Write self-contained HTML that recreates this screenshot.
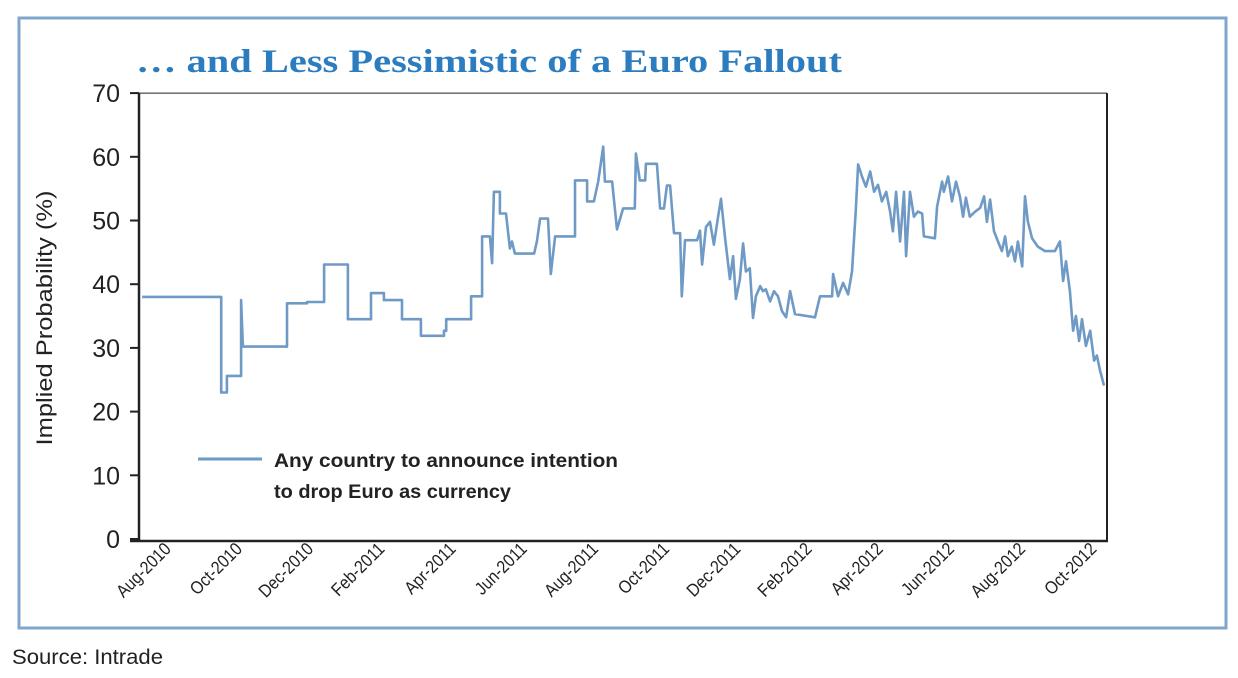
<!DOCTYPE html>
<html><head><meta charset="utf-8">
<style>
html,body{margin:0;padding:0;background:#fff;}
svg{display:block;}
</style></head>
<body>
<svg id="chart" width="1238" height="678" xmlns="http://www.w3.org/2000/svg">
  <rect x="19" y="18" width="1207" height="610" fill="none" stroke="#7fa6cc" stroke-width="3"/>
  <text x="136" y="72" textLength="706" lengthAdjust="spacingAndGlyphs" font-family="'Liberation Serif',serif" font-weight="bold" font-size="33" fill="#2b7dbf">… and Less Pessimistic of a Euro Fallout</text>
  <text transform="translate(52,318) rotate(-90)" text-anchor="middle" textLength="255" lengthAdjust="spacingAndGlyphs" font-family="'Liberation Sans',sans-serif" font-size="22" fill="#222">Implied Probability (%)</text>
  <g id="yaxis"></g>
  <g id="xaxis"></g>
  <g id="series"></g>
  <g>
    <line x1="198" y1="459" x2="262" y2="459" stroke="#6f9ac6" stroke-width="3"/>
    <text x="274" y="467" textLength="344" lengthAdjust="spacingAndGlyphs" font-family="'Liberation Sans',sans-serif" font-weight="bold" font-size="19" fill="#222">Any country to announce intention</text>
    <text x="274" y="498" textLength="237" lengthAdjust="spacingAndGlyphs" font-family="'Liberation Sans',sans-serif" font-weight="bold" font-size="19" fill="#222">to drop Euro as currency</text>
  </g>
  <text x="12" y="664" textLength="151" lengthAdjust="spacingAndGlyphs" font-family="'Liberation Sans',sans-serif" font-size="21" fill="#222">Source: Intrade</text>
</svg>
<script>
const yTicks = [0,10,20,30,40,50,60,70];
const xLabels = ["Aug-2010","Oct-2010","Dec-2010","Feb-2011","Apr-2011","Jun-2011","Aug-2011","Oct-2011","Dec-2011","Feb-2012","Apr-2012","Jun-2012","Aug-2012","Oct-2012"];
// months since Aug-2010
const months = [0.06,2.28,2.28,2.44,2.44,2.84,2.84,2.89,4.13,4.13,4.69,4.69,5.17,5.17,5.84,5.84,6.49,6.49,6.85,6.85,7.36,7.36,7.89,7.89,8.54,8.54,8.60,8.60,9.30,9.30,9.61,9.61,9.83,9.89,9.94,10.11,10.11,10.28,10.39,10.45,10.53,11.07,11.15,11.24,11.46,11.54,11.66,12.22,12.22,12.56,12.56,12.75,12.87,13.01,13.06,13.26,13.40,13.57,13.90,13.93,14.04,14.19,14.21,14.52,14.61,14.72,14.80,14.89,15.00,15.17,15.22,15.31,15.65,
15.73,15.79,15.90,16.01,16.12,16.24,16.32,16.43,16.57,16.66,16.74,16.85,16.94,17.02,17.13,17.22,17.30,17.42,17.50,17.58,17.70,17.81,17.92,18.03,18.15,18.26,18.40,18.96,19.10,19.44,19.47,19.61,19.75,19.89,20.00,20.11,20.17,20.28,20.39,20.51,20.62,20.73,20.84,20.96,21.07,21.15,21.24,21.35,21.46,21.52,21.63,21.74,21.85,21.97,22.02,22.33,22.39,22.53,22.58,22.70,22.81,22.92,23.03,23.12,23.20,23.31,23.46,23.60,23.71,23.79,23.88,23.99,24.10,24.21,24.30,24.38,24.49,24.58,24.66,24.78,24.86,24.94,25.06,25.22,25.42,25.70,25.84,25.93,26.01,26.12,26.21,26.29,26.38,26.46,26.57,26.69,26.80,26.88,26.97,27.08];
const probability = [38,38,23,23,25.6,25.6,37.5,30.2,30.2,37,37,37.2,37.2,43.1,43.1,34.5,34.5,38.6,38.6,37.5,37.5,34.5,34.5,31.9,31.9,32.7,32.7,34.5,34.5,38.1,38.1,47.5,47.5,43.3,54.5,54.5,51.1,51.1,45.6,46.7,44.8,44.8,46.7,50.3,50.3,41.6,47.5,47.5,56.3,56.3,53,53,56.1,61.6,56.1,56.1,48.6,51.9,51.9,60.5,56.3,56.3,58.9,58.9,51.9,51.9,55.5,55.5,48,48,38.1,46.9,46.9,
48.4,43.1,49,49.8,46.2,50.6,53.4,47.5,40.8,44.4,37.7,40.8,46.4,42,42.5,34.7,38.1,39.7,38.9,39.2,37.3,38.9,38.1,35.8,34.8,38.9,35.3,34.8,38.1,38.1,41.6,38.1,40.2,38.4,42,51.9,58.8,56.9,55.3,57.7,54.5,55.6,53,54.5,51.4,48.3,54.5,46.7,54.5,44.4,54.5,50.6,51.4,51.1,47.5,47.2,52.2,56.1,54.5,56.9,53,56.1,53.8,50.6,53.6,50.6,51.4,52,53.8,49.8,53.3,48.3,46.7,45.2,47.5,44.4,45.9,43.6,46.7,42.8,53.8,49.8,47.2,45.9,45.2,45.2,46.7,40.5,43.6,38.9,32.7,35,31.1,34.5,30.3,32.7,28,28.8,26.4,24.1];

const NS = "http://www.w3.org/2000/svg";
const X0 = 140, PXM = 35.6, Y0 = 539, PXV = 6.37;
function xs(m){ return X0 + m*PXM; }
function ys(v){ return Y0 - v*PXV; }
function mk(tag, attrs, parent){
  const e = document.createElementNS(NS, tag);
  for (const k in attrs) e.setAttribute(k, attrs[k]);
  parent.appendChild(e); return e;
}
const yg = document.getElementById('yaxis');
const axL = mk('line',{x1:139,y1:ys(70),x2:139,y2:541.5,stroke:'#222','stroke-width':2.5},yg);


yTicks.forEach(v=>{
  const t = mk('line',{x1:130,y1:ys(v),x2:139,y2:ys(v),stroke:'#222','stroke-width':2},yg);
  
  
  const l = mk('text',{x:120,y:ys(v)+9,'text-anchor':'end','font-family':"'Liberation Sans',sans-serif",'font-size':25,fill:'#222'},yg);
  l.textContent = v;
  
  
});
const xg = document.getElementById('xaxis');
const axB = mk('line',{x1:130,y1:541,x2:1108,y2:541,stroke:'#222','stroke-width':2.5},xg);


const axR = mk('line',{x1:1107,y1:ys(70),x2:1107,y2:541,stroke:'#222','stroke-width':2},xg);


const axT = mk('line',{x1:139,y1:ys(70),x2:1107,y2:ys(70),stroke:'#222','stroke-width':1},xg);


xLabels.forEach((s,i)=>{
  const ax = xs(i*2)+32, ay = 550;
  const l = mk('text',{x:0,y:0,'text-anchor':'end','font-family':"'Liberation Sans',sans-serif",'font-size':18,fill:'#222',
    transform:`translate(${ax},${ay}) rotate(-45) scale(0.88,1)`},xg);
  l.textContent = s;
  
  
});
const sg = document.getElementById('series');
let d = '';
months.forEach((m,i)=>{ d += (i?'L':'M') + xs(m).toFixed(1) + ' ' + ys(probability[i]).toFixed(1); });
const p = mk('path',{d:d,fill:'none',stroke:'#6f9ac6','stroke-width':2.6,'stroke-linejoin':'round'},sg);


</script>
</body></html>
